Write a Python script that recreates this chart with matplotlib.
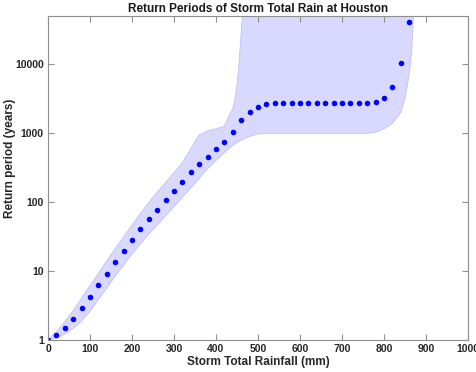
import matplotlib
matplotlib.use('Agg')
import matplotlib.pyplot as plt
import numpy as np

plt.rcParams['font.family'] = ['Liberation Sans', 'DejaVu Sans']
plt.rcParams['font.weight'] = 'bold'

# storm total rainfall (mm) and estimated return period (years)
rain = [0, 20, 40, 60, 80, 100, 120, 140, 160, 180, 200, 220, 240, 260, 280,
        300, 320, 340, 360, 380, 400, 420, 440, 460, 480, 500, 520, 540, 560,
        580, 600, 620, 640, 660, 680, 700, 720, 740, 760, 780, 800, 820, 840, 860]
period = [1.0, 1.17, 1.48, 2.0, 2.84, 4.16, 6.1, 9.05, 13.2, 19.1, 27.9, 40.2,
          56, 77, 108, 143, 196, 269, 352, 454, 586, 748, 1020, 1530, 2040,
          2380, 2610, 2690, 2700, 2700, 2700, 2700, 2700, 2700, 2700, 2700,
          2700, 2700, 2720, 2810, 3190, 4640, 10400, 40600]

# confidence band (log10 of return period)
band_lo_x = [0, 20, 40, 60, 80, 100, 120, 140, 160, 180, 200, 220, 240, 260,
             280, 300, 320, 340, 360, 380, 400, 420, 440, 460, 480, 500, 520,
             540, 760, 780, 800, 820, 840, 850, 860, 866, 870, 875, 900]
band_lo = [0, 0.02, 0.08, 0.16, 0.27, 0.41, 0.58, 0.75, 0.92, 1.08, 1.24, 1.39,
           1.53, 1.66, 1.8, 1.93, 2.07, 2.2, 2.34, 2.48, 2.6, 2.72, 2.82, 2.9,
           2.95, 2.985, 2.995, 2.996, 2.996, 3.01, 3.06, 3.14, 3.3, 3.5, 3.85,
           4.2, 4.7, 5.5, 7.0]
band_hi_x = [0, 20, 40, 60, 80, 100, 120, 140, 160, 180, 200, 220, 240, 260,
             280, 300, 320, 340, 360, 380, 400, 420, 430, 440, 445, 450, 455,
             460, 463, 470, 900]
band_hi = [0, 0.11, 0.26, 0.42, 0.6, 0.78, 0.96, 1.14, 1.32, 1.49, 1.66, 1.83,
           1.99, 2.14, 2.28, 2.42, 2.57, 2.77, 2.97, 3.03, 3.06, 3.1, 3.24, 3.35,
           3.48, 3.7, 4.03, 4.45, 4.7, 5.5, 7.0]

fig = plt.figure(figsize=[4.77, 3.72], dpi=100)
ax = fig.add_axes([48/477, 1-339.5/372, 420/477, 323.5/372])

bx = np.array(band_lo_x + band_hi_x[::-1])
by = 10**np.array(band_lo + band_hi[::-1])
ax.fill(bx, by, facecolor=(0.85, 0.85, 1.0), edgecolor=(0.75, 0.75, 0.97), lw=0.6)
ax.plot(rain, period, 'o', color=(0, 0, 1), ms=4, mec='none')

ax.set_yscale('log')
ax.set_xlim(0, 1000)
ax.set_ylim(1, 5e4)
ax.set_xticks(np.arange(0, 1001, 100))
ax.set_yticks([1, 10, 100, 1000, 10000])
ax.set_yticklabels(['1', '10', '100', '1000', '10000'])
ax.yaxis.set_minor_locator(matplotlib.ticker.NullLocator())

gray = '#8f8f8f'
for s in ax.spines.values():
    s.set_color(gray)
    s.set_linewidth(0.8)
ax.tick_params(direction='in', length=4, width=0.8, color=gray, labelsize=7.5,
               labelcolor='#262626', top=True, right=True, pad=3)

ax.set_title('Return Periods of Storm Total Rain at Houston', fontsize=8.5,
             fontweight='bold', color='#1a1a1a', pad=3)
ax.set_xlabel('Storm Total Rainfall (mm)', fontsize=8.5, fontweight='bold',
              color='#262626', labelpad=2)
ax.set_ylabel('Return period (years)', fontsize=8.5, fontweight='bold',
              color='#262626')
ax.yaxis.set_label_coords(-0.076, 0.561)

fig.savefig('out.png', dpi=100)
